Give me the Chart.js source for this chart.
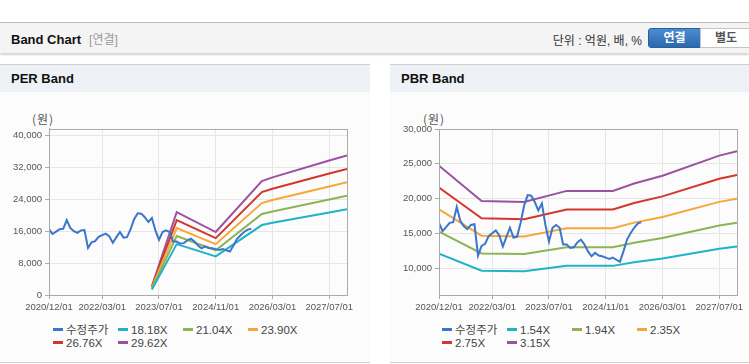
<!DOCTYPE html>
<html>
<head>
<meta charset="utf-8">
<script src="https://cdn.jsdelivr.net/npm/chart.js@4.4.1/dist/chart.umd.min.js"></script>
<style>
    body { margin: 0; width: 749px; height: 364px; background: #fff; font-family: "Liberation Sans", "Noto Sans CJK KR", sans-serif; position: relative; overflow: hidden; }
    .barra-topo { position: absolute; left: 0; top: 22px; width: 749px; height: 30px; background: #f4f4f4; border-top: 1px solid #bdbdbd; box-shadow: 0 2px 2px rgba(0,0,0,0.18); }
    .titulo { position: absolute; left: 11px; top: 7px; font-size: 13px; font-weight: bold; color: #111; }
    .titulo span { font-weight: normal; color: #999; font-size: 12px; margin-left: 8px; }
    .unidade { position: absolute; right: 107px; top: 8px; font-size: 12px; color: #333; }
    .btn { position: absolute; top: 5px; height: 18px; line-height: 18px; font-size: 12px; font-weight: bold; text-align: center; }
    .btn-on { left: 648px; width: 51px; color: #fff; background: linear-gradient(#4b8cd1, #2c68ae); border: 1px solid #2a5f9e; border-radius: 3px 0 0 3px; }
    .btn-off { left: 700px; width: 50px; color: #555; background: #fff; border: 1px solid #c4c4c4; }
    .painel { position: absolute; top: 64px; height: 297px; background: #fcfcfc; border-top: 1px solid #cfcfcf; border-bottom: 1px solid #cfcfcf; }
    .painel-head { height: 27px; background: #eef1f6; font-size: 13px; font-weight: bold; color: #111; line-height: 28px; padding-left: 11px; }
    canvas { position: absolute; }
    .unid-y { position: absolute; top: 110px; font-size: 12px; color: #555; font-family: "Noto Sans CJK KR", sans-serif; letter-spacing: 1px; }
    .legenda { position: absolute; top: 324px; width: 270px; font-size: 11.5px; color: #444; }
    .leg-item { display: inline-block; width: 65px; height: 13px; line-height: 13px; white-space: nowrap; }
    .leg-item i { display: inline-block; width: 10px; height: 3px; vertical-align: middle; margin-right: 3px; position: relative; top: -1px; }
</style>
</head>
<body>
    <div class="barra-topo">
        <div class="titulo">Band Chart<span>[연결]</span></div>
        <div class="unidade">단위 : 억원, 배, %</div>
        <div class="btn btn-on">연결</div>
        <div class="btn btn-off">별도</div>
    </div>

    <div class="painel" style="left:0; width:370px;"><div class="painel-head">PER Band</div></div>
    <div class="painel" style="left:390px; width:359px;"><div class="painel-head">PBR Band</div></div>

    <div class="unid-y" style="left:32px;">(원)</div>
    <div class="unid-y" style="left:423px;">(원)</div>

    <canvas id="perChart" width="370" height="195" style="left:0; top:120px;"></canvas>
    <canvas id="pbrChart" width="359" height="195" style="left:390px; top:120px;"></canvas>

    <div class="legenda" id="legendaPer" style="left:53px;"></div>
    <div class="legenda" id="legendaPbr" style="left:442px;"></div>

<script>
// --- DADOS ---
const mesInicial = '2020/12/01';
const mesFinal = '2027/12/01';
const rotulosX = ['2020/12/01', '2022/03/01', '2023/07/01', '2024/11/01', '2026/03/01', '2027/07/01'];

// 수정주가 (mensal, 2020/12 ~ 2025/09)
const precoAjustado = [16500, 15300, 15900, 16500, 16600, 18800, 16800, 16000, 15600, 16200,
    16300, 11800, 13200, 13500, 14600, 15000, 15400, 14700, 13100, 14500,
    15800, 14400, 14500, 16500, 19000, 20500, 20400, 19500, 18300, 19300,
    16200, 13800, 15800, 16200, 15800, 13400, 13400, 12900, 13000, 13700,
    14100, 13400, 12400, 11700, 12200, 11800, 11700, 11500, 11300, 11500,
    11200, 10900, 12400, 14100, 15000, 15800, 16400, 16600];

// PER band
const perDatas = ['2023/05/01', '2023/12/01', '2024/11/01', '2025/12/01', '2026/03/01', '2027/07/01', '2027/12/01'];
const per1818 = [1380, 12760, 9690, 17540, 18110, 20690, 21490];
const per2104 = [1600, 14770, 11210, 20300, 20960, 23940, 24870];
const per2390 = [1820, 16780, 12740, 23060, 23800, 27200, 28250];
const per2676 = [2030, 18790, 14260, 25820, 26650, 30450, 31630];
const per2962 = [2250, 20790, 15790, 28580, 29500, 33710, 35010];
const perTicksY = [0, 8000, 16000, 24000, 32000, 40000];

// PBR band
const pbrDatas = ['2020/12/01', '2021/12/01', '2022/12/01', '2023/12/01', '2025/01/01', '2025/07/01', '2026/03/01', '2027/07/01', '2027/12/01'];
const pbr154 = [12090, 9610, 9530, 10320, 10320, 10840, 11380, 12790, 13100];
const pbr194 = [15230, 12100, 12010, 12990, 12990, 13650, 14330, 16120, 16510];
const pbr235 = [18440, 14660, 14550, 15740, 15740, 16540, 17360, 19520, 19990];
const pbr275 = [21580, 17160, 17020, 18420, 18420, 19360, 20310, 22850, 23400];
const pbr315 = [24720, 19650, 19500, 21100, 21100, 22170, 23270, 26170, 26800];
const pbrTicksY = [10000, 15000, 20000, 25000, 30000];

const cores = ['#3a76c9', '#1fb3c8', '#8cb454', '#f5a83a', '#d3362d', '#9b529f'];

// converte 'AAAA/MM/DD' em índice de mês desde o início
function indiceMes(data) {
    const [a, m] = data.split('/').map(Number);
    const [a0, m0] = mesInicial.split('/').map(Number);
    return (a - a0) * 12 + (m - m0);
}

function pontos(datas, valores) {
    return valores.map((v, i) => ({ x: indiceMes(datas[i]), y: v }));
}

const serieMensal = precoAjustado.map((v, i) => ({ x: i, y: v }));

// desenha a moldura do gráfico
const molduraPlugin = {
    id: 'moldura',
    afterDraw(chart) {
        const a = chart.chartArea;
        const ctx = chart.ctx;
        ctx.save();
        ctx.strokeStyle = '#aaaaaa';
        ctx.lineWidth = 1;
        ctx.strokeRect(Math.round(a.left) + 0.5, Math.round(a.top) + 0.5, Math.round(a.right - a.left), Math.round(a.bottom - a.top));
        ctx.restore();
    }
};

function criarGrafico(id, series, nomes, ticksY, minY, maxY, padTop, padRight) {
    const fonteTick = { family: "'Liberation Sans', sans-serif", size: 9.5 };
    return new Chart(document.getElementById(id), {
        type: 'line',
        data: {
            datasets: series.map((s, i) => ({
                label: nomes[i],
                data: s,
                borderColor: cores[i],
                backgroundColor: cores[i],
                borderWidth: 2,
                pointRadius: 0,
                tension: 0,
                fill: false
            }))
        },
        options: {
            responsive: false,
            animation: false,
            layout: { padding: { top: padTop, right: padRight, left: 0, bottom: 0 } },
            plugins: { legend: { display: false }, tooltip: { enabled: false } },
            scales: {
                x: {
                    type: 'linear',
                    min: 0,
                    max: indiceMes(mesFinal),
                    afterBuildTicks: (scale) => { scale.ticks = rotulosX.map(r => ({ value: indiceMes(r) })); },
                    afterFit: (scale) => { scale.height = 20; },
                    ticks: {
                        autoSkip: false, maxRotation: 0, padding: 3, color: '#555', font: fonteTick,
                        callback: (v) => rotulosX.find(r => indiceMes(r) === v) || ''
                    },
                    grid: { color: '#e6e6e6', tickColor: '#aaaaaa', tickLength: 4 },
                    border: { color: '#aaaaaa' }
                },
                y: {
                    min: minY,
                    max: maxY,
                    afterBuildTicks: (scale) => { scale.ticks = ticksY.map(v => ({ value: v })); },
                    afterFit: (scale) => { scale.width = 49; },
                    ticks: { padding: 3, color: '#555', font: fonteTick, callback: (v) => v.toLocaleString('en-US') },
                    grid: { color: '#e6e6e6', tickColor: '#aaaaaa', tickLength: 4 },
                    border: { color: '#aaaaaa' }
                }
            }
        },
        plugins: [molduraPlugin]
    });
}

const nomesPer = ['수정주가', '18.18X', '21.04X', '23.90X', '26.76X', '29.62X'];
const nomesPbr = ['수정주가', '1.54X', '1.94X', '2.35X', '2.75X', '3.15X'];

criarGrafico('perChart', [
    serieMensal,
    pontos(perDatas, per1818), pontos(perDatas, per2104), pontos(perDatas, per2390),
    pontos(perDatas, per2676), pontos(perDatas, per2962)
], nomesPer, perTicksY, 0, 41700, 8, 23);

criarGrafico('pbrChart', [
    serieMensal,
    pontos(pbrDatas, pbr154), pontos(pbrDatas, pbr194), pontos(pbrDatas, pbr235),
    pontos(pbrDatas, pbr275), pontos(pbrDatas, pbr315)
], nomesPbr, pbrTicksY, 6130, 30000, 9, 12);

// legenda em html (colunas fixas, como no original)
function montarLegenda(id, nomes) {
    const el = document.getElementById(id);
    el.innerHTML = nomes.map((n, i) =>
        `<span class="leg-item"><i style="background:${cores[i]}"></i>${n}</span>${i === 3 ? '<br>' : ''}`
    ).join('');
}
montarLegenda('legendaPer', nomesPer);
montarLegenda('legendaPbr', nomesPbr);
</script>
</body>
</html>
